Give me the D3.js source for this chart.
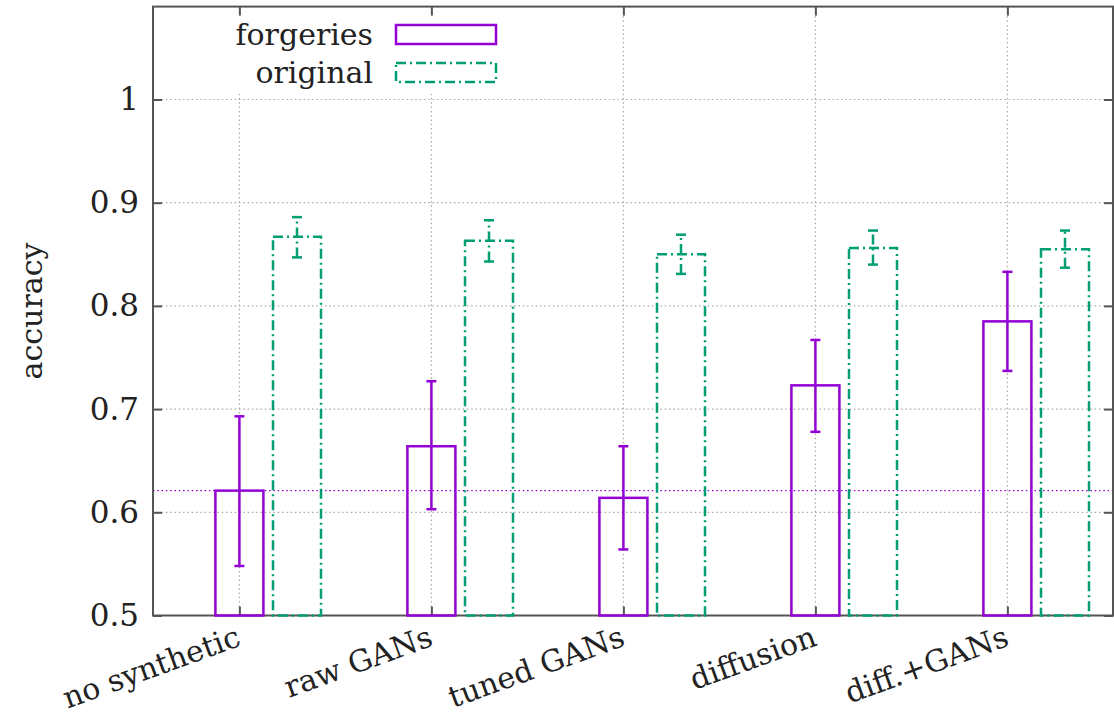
<!DOCTYPE html>
<html>
<head>
<meta charset="utf-8">
<script src="https://cdn.jsdelivr.net/npm/d3@7"></script>
<style>
  body { margin: 0; background: #fff; }
  svg text { font-family: "DejaVu Serif", serif; fill: #222; }
</style>
</head>
<body>
<div id="chart"></div>
<script>
// accuracy per training setup, error bars read as low/high ends
var categories = ["no synthetic", "raw GANs", "tuned GANs", "diffusion", "diff.+GANs"];
var forgeries   = [0.621, 0.664, 0.614, 0.723, 0.785];
var forgeriesLo = [0.548, 0.603, 0.564, 0.678, 0.737];
var forgeriesHi = [0.693, 0.727, 0.664, 0.767, 0.833];
var original    = [0.867, 0.863, 0.850, 0.856, 0.855];
var originalLo  = [0.847, 0.843, 0.831, 0.840, 0.837];
var originalHi  = [0.886, 0.883, 0.869, 0.873, 0.873];
var baseline = 0.621;
var yTicks = [0.5, 0.6, 0.7, 0.8, 0.9, 1];
var legendNames = ["forgeries", "original"];

var W = 1114, H = 717;
var purple = "#9400d3", green = "#009e73";
var dashDot = "10,4,2,4";
var barW = 0.25, offset = 0.3;

var svg = d3.select("#chart").append("svg")
    .attr("width", W)
    .attr("height", H);

var x = d3.scaleLinear().domain([-0.45, 4.55]).range([153, 1113]);
var y = d3.scaleLinear().domain([0.5, 1.09]).range([615.5, 6.6]);

var x0 = x.range()[0], x1 = x.range()[1];
var yb = y.range()[0], yt = y.range()[1];

// grid
svg.selectAll("line.hgrid").data(yTicks.slice(1)).enter()
  .append("line")
    .attr("x1", x0).attr("x2", x1)
    .attr("y1", function(d) { return y(d); })
    .attr("y2", function(d) { return y(d); })
    .style("stroke", "#a8a8a8")
    .style("stroke-width", 1.2)
    .style("stroke-dasharray", "1.5,2.8");

svg.selectAll("line.vgrid").data(categories).enter()
  .append("line")
    .attr("x1", function(d, i) { return x(i); })
    .attr("x2", function(d, i) { return x(i); })
    .attr("y1", yb).attr("y2", yt)
    .style("stroke", "#a8a8a8")
    .style("stroke-width", 1.2)
    .style("stroke-dasharray", "1.5,2.8");

svg.append("line")
    .attr("x1", x0).attr("x2", x1)
    .attr("y1", y(baseline)).attr("y2", y(baseline))
    .style("stroke", purple)
    .style("stroke-width", 1.1)
    .style("stroke-dasharray", "1.5,2.8");

// opaque key box
svg.append("rect")
    .attr("x", 228).attr("y", 16)
    .attr("width", 278).attr("height", 78)
    .style("fill", "#fff");

// frame and ticks
svg.append("rect")
    .attr("x", x0).attr("y", yt)
    .attr("width", x1 - x0).attr("height", yb - yt)
    .style("fill", "none")
    .style("stroke", "#555")
    .style("stroke-width", 2);

var axisL = svg.append("g")
    .attr("transform", "translate(" + x0 + ",0)")
    .call(d3.axisLeft(y).tickValues(yTicks).tickSize(-9).tickPadding(14)
      .tickFormat(function(d) { return d === 1 ? "1" : d3.format(".1f")(d); }));
var axisR = svg.append("g")
    .attr("transform", "translate(" + x1 + ",0)")
    .call(d3.axisRight(y).tickValues(yTicks).tickSize(-9).tickFormat(""));
var axisB = svg.append("g")
    .attr("transform", "translate(0," + yb + ")")
    .call(d3.axisBottom(x).tickValues(d3.range(categories.length)).tickSize(-9).tickFormat(""));
var axisT = svg.append("g")
    .attr("transform", "translate(0," + yt + ")")
    .call(d3.axisTop(x).tickValues(d3.range(categories.length)).tickSize(-9).tickFormat(""));

[axisL, axisR, axisB, axisT].forEach(function(a) {
  a.attr("font-family", null);
  a.select(".domain").remove();
  a.selectAll(".tick line").style("stroke", "#555").style("stroke-width", 2);
});
axisL.selectAll(".tick text")
    .style("font-size", "31px")
    .style("fill", "#222");

svg.selectAll("text.xlab").data(categories).enter()
  .append("text")
    .attr("class", "xlab")
    .attr("transform", function(d, i) {
      return "translate(" + (x(i) + 3) + ",645) rotate(-20)"; })
    .style("text-anchor", "end")
    .style("font-size", "30px")
    .text(function(d) { return d; });

svg.append("text")
    .attr("transform", "translate(42,311) rotate(-90)")
    .style("text-anchor", "middle")
    .style("font-size", "30px")
    .text("accuracy");

// bars
svg.selectAll("rect.forg").data(forgeries).enter()
  .append("rect")
    .attr("x", function(d, i) { return x(i - barW / 2); })
    .attr("width", x(barW) - x(0))
    .attr("y", function(d) { return y(d); })
    .attr("height", function(d) { return yb - y(d); })
    .style("fill", "none")
    .style("stroke", purple)
    .style("stroke-width", 2.5);

svg.selectAll("rect.orig").data(original).enter()
  .append("rect")
    .attr("x", function(d, i) { return x(i + offset - barW / 2); })
    .attr("width", x(barW) - x(0))
    .attr("y", function(d) { return y(d); })
    .attr("height", function(d) { return yb - y(d); })
    .style("fill", "none")
    .style("stroke", green)
    .style("stroke-width", 2.5)
    .style("stroke-dasharray", dashDot);

// error bars
function errorBars(lo, hi, shift, color, dash) {
  var g = svg.append("g")
      .style("stroke", color)
      .style("stroke-width", 2.5)
      .style("stroke-dasharray", dash);
  g.selectAll("line.stem").data(lo).enter()
    .append("line")
      .attr("x1", function(d, i) { return x(i + shift); })
      .attr("x2", function(d, i) { return x(i + shift); })
      .attr("y1", function(d) { return y(d); })
      .attr("y2", function(d, i) { return y(hi[i]); });
  g.selectAll("line.capLo").data(lo).enter()
    .append("line")
      .attr("x1", function(d, i) { return x(i + shift) - 5; })
      .attr("x2", function(d, i) { return x(i + shift) + 5; })
      .attr("y1", function(d) { return y(d); })
      .attr("y2", function(d) { return y(d); })
      .style("stroke-dasharray", "none");
  g.selectAll("line.capHi").data(hi).enter()
    .append("line")
      .attr("x1", function(d, i) { return x(i + shift) - 5; })
      .attr("x2", function(d, i) { return x(i + shift) + 5; })
      .attr("y1", function(d) { return y(d); })
      .attr("y2", function(d) { return y(d); })
      .style("stroke-dasharray", "none");
}
errorBars(forgeriesLo, forgeriesHi, 0, purple, "none");
errorBars(originalLo, originalHi, offset, green, dashDot);

// legend
var legend = svg.selectAll("g.key").data(legendNames).enter()
  .append("g")
    .attr("transform", function(d, i) { return "translate(0," + (i * 38) + ")"; });

legend.append("text")
    .attr("x", 373).attr("y", 45)
    .style("text-anchor", "end")
    .style("font-size", "30px")
    .text(function(d) { return d; });

legend.append("rect")
    .attr("x", 396).attr("y", 25)
    .attr("width", 100).attr("height", 19)
    .style("fill", "none")
    .style("stroke", function(d, i) { return i === 0 ? purple : green; })
    .style("stroke-width", 2.5)
    .style("stroke-dasharray", function(d, i) { return i === 0 ? "none" : dashDot; });
</script>
</body>
</html>
